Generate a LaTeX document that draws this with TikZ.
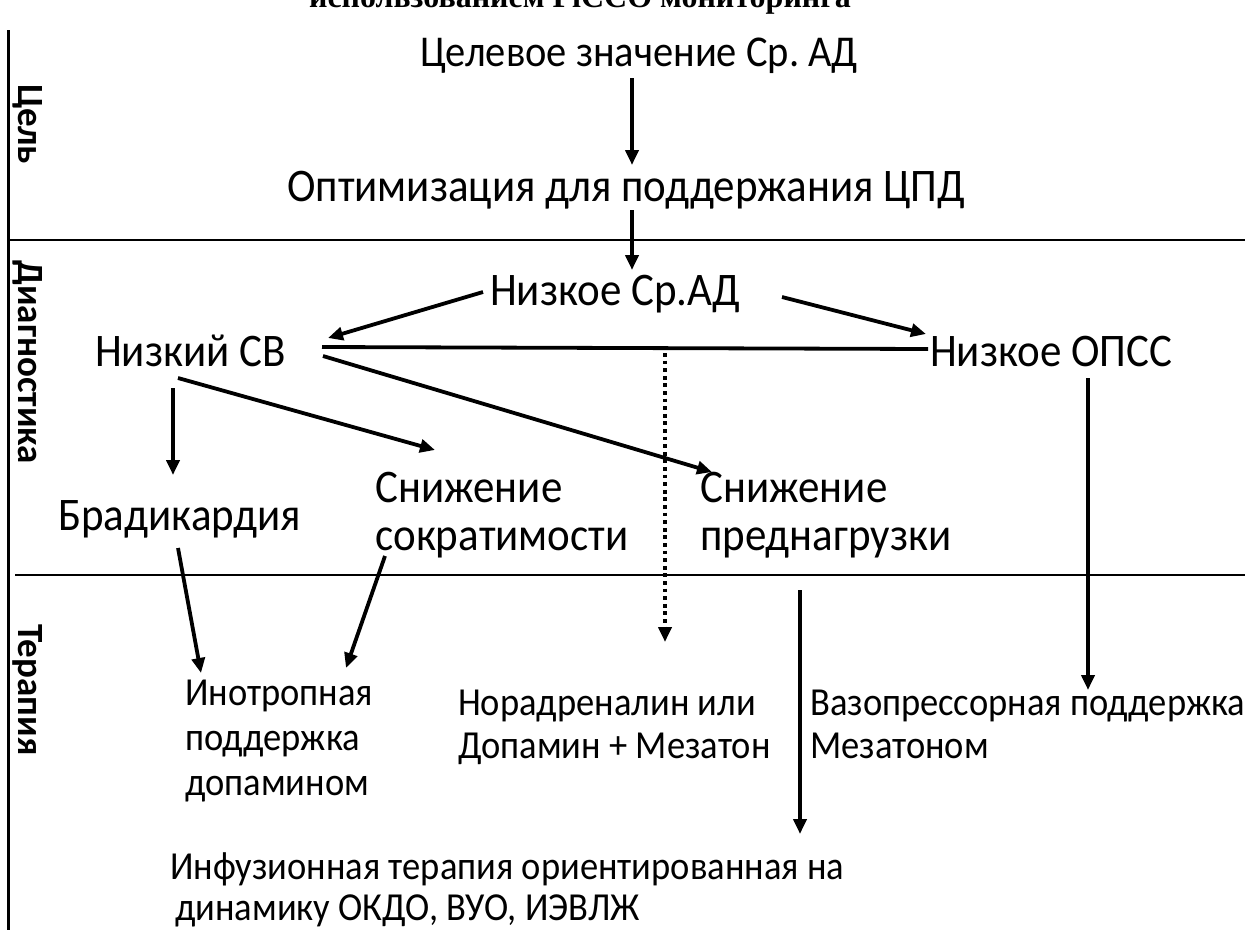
\documentclass[tikz,border=0pt]{standalone}
\usepackage{fontspec}
\setmainfont[FakeStretch=0.92]{Carlito}
\newfontfamily\sidefont{Carlito}
\newfontfamily\serifb{Liberation Serif}
\usetikzlibrary{arrows.meta}
\frenchspacing
\begin{document}
\begin{tikzpicture}[x=1pt,y=-1pt,
  big/.style={font=\fontsize{46.7}{48}\selectfont, inner sep=0pt, anchor=base west, align=left},
  small/.style={font=\fontsize{39.7}{43}\selectfont, inner sep=0pt, anchor=base west, align=left},
  side/.style={font=\sidefont\bfseries\fontsize{37}{44}\selectfont, inner sep=0pt, rotate=-90},
  arr/.style={line width=3.8pt, -{Triangle[length=15pt,width=13pt]}},
  plain/.style={line width=3.8pt},
  dots/.style={line width=3.8pt, dash pattern=on 3.8pt off 3.8pt, -{Triangle[length=15pt,width=13pt]}},
  rule/.style={line width=1.4pt}]
\useasboundingbox (0,0) rectangle (1245,930);
\clip (0,0) rectangle (1245,930);
\fill[white] (0,0) rectangle (1245,930);

% cut-off title
\node[font=\serifb\bfseries\fontsize{32}{40}\selectfont, inner sep=0pt, anchor=base] (title) at (580,7) {использованием PiCCO мониторинга};

% frame lines
\draw[line width=3pt] (8,30) -- (8,930);
\draw[rule] (8,240) -- (1245,240);
\draw[rule] (15,575) -- (1245,575);

% side labels
\node[side] (s1) at (28,124) {Цель};
\node[side] (s2) at (28,362) {Диагностика};
\node[side] (s3) at (28,690) {Терапия};

% nodes
\node[big, font=\fontsize{44}{48}\selectfont] (goal) at (420,66) {Целевое значение Ср. АД};
\node[big] (opt) at (287,201) {Оптимизация для поддержания ЦПД};
\node[big] (lowmap) at (490,305) {Низкое Ср.АД};
\node[big] (lowco) at (95,366) {Низкий СВ};
\node[big] (lowsvr) at (930,366) {Низкое ОПСС};
\node[big] (brady) at (58,530) {Брадикардия};
\node[big] (contr) at (375,550) {Снижение\\сократимости};
\node[big] (prel) at (700,550) {Снижение\\преднагрузки};
\node[small, font=\fontsize{39.7}{45}\selectfont] (ino) at (185,795) {Инотропная\\поддержка\\допамином};
\node[small] (nor) at (458,758) {Норадреналин или\\Допамин + Мезатон};
\node[small] (vaso) at (810,758) {Вазопрессорная поддержка\\Мезатоном};
\node[small, font=\fontsize{39.7}{41}\selectfont] (inf) at (170,920) {Инфузионная терапия ориентированная на\\\hspace*{5pt}динамику ОКДО, ВУО, ИЭВЛЖ};

% coordinates for connector ends
\coordinate (a1s) at (632,78);  \coordinate (a1e) at (632,165);
\coordinate (a2s) at (632,210); \coordinate (a2e) at (632,270);
\coordinate (l1s) at (483,292); \coordinate (l1e) at (328,338);
\coordinate (r1s) at (782,297); \coordinate (r1e) at (926,334);
\coordinate (hs) at (322,347);  \coordinate (he) at (928,349);
\coordinate (pss) at (323,356); \coordinate (pse) at (712,472);
\coordinate (cs) at (178,378);  \coordinate (ce) at (435,450);
\coordinate (bs) at (173,388);  \coordinate (be) at (173,475);
\coordinate (ds) at (665,353);  \coordinate (de) at (665,642);
\coordinate (br1) at (178,548); \coordinate (br2) at (201,673);
\coordinate (cn1) at (385,556); \coordinate (cn2) at (346,668);
\coordinate (iv1) at (800,590); \coordinate (iv2) at (800,834);
\coordinate (sv1) at (1088,378); \coordinate (sv2) at (1088,690);

\draw[arr] (a1s) -- (a1e);
\draw[arr] (a2s) -- (a2e);
\draw[arr] (l1s) -- (l1e);
\draw[arr] (r1s) -- (r1e);
\draw[plain] (hs) -- (he);
\draw[arr] (pss) -- (pse);
\draw[arr] (cs) -- (ce);
\draw[arr] (bs) -- (be);
\draw[dots] (ds) -- (de);
\draw[arr] (br1) -- (br2);
\draw[arr] (cn1) -- (cn2);
\draw[arr] (iv1) -- (iv2);
\draw[arr] (sv1) -- (sv2);
\end{tikzpicture}
\end{document}
